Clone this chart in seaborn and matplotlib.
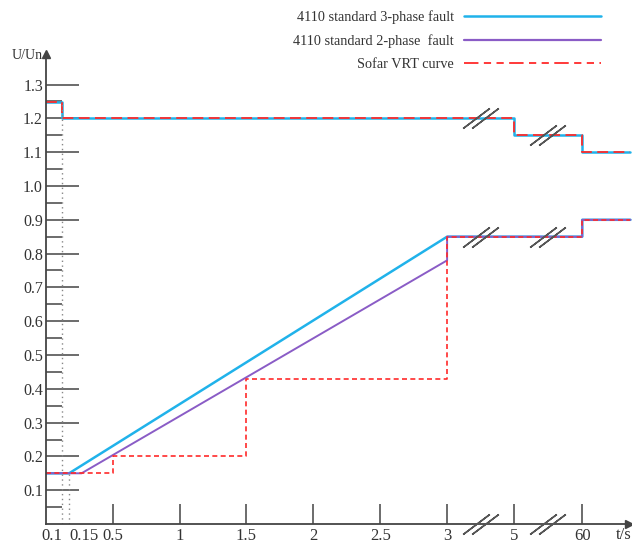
import numpy as np
import matplotlib
matplotlib.use('Agg')
import matplotlib.pyplot as plt
import seaborn as sns
from matplotlib.lines import Line2D
from matplotlib.transforms import offset_copy

# --- data ---
# time axis is broken after 3 s, so times are mapped to axis positions piecewise
AXIS_T = [0, 0.1, 0.15, 0.5, 3, 5, 60, 70]
AXIS_POS = [0, 0.12, 0.175, 0.5, 3, 3.5, 4.01, 4.37]

# upper (high voltage) branch, shared by all curves
HV_T = [0, 0.1, 0.1, 5, 5, 60, 60, 70]
HV_U = [1.25, 1.25, 1.2, 1.2, 1.15, 1.15, 1.1, 1.1]

# lower (low voltage) branches
LV3_T = [0, 0.15, 3, 60, 60, 70]
LV3_U = [0.15, 0.15, 0.85, 0.85, 0.9, 0.9]
LV2_T = [0, 0.25, 3, 3, 60, 60, 70]
LV2_U = [0.15, 0.15, 0.78, 0.85, 0.85, 0.9, 0.9]
SOFAR_T = [0, 0.5, 0.5, 1.5, 1.5, 3, 3, 60, 60, 70]
SOFAR_U = [0.15, 0.15, 0.2, 0.2, 0.43, 0.43, 0.85, 0.85, 0.9, 0.9]

XTICK_T = [0.1, 0.15, 0.5, 1, 1.5, 2, 2.5, 3, 5, 60]
XTICK_LABELS = ['0.1', '0.15', '0.5', '1', '1.5', '2', '2.5', '3', '5', '60']
YTICKS = [0.1, 0.2, 0.3, 0.4, 0.5, 0.6, 0.7, 0.8, 0.9, 1.0, 1.1, 1.2, 1.3]

DOTTED_T = [0.1, 0.15]
DOTTED_TOP = [1.25, 0.15]

# axis breaks: (time, level)
BREAKS_T = [4, 32, 4, 32, 4, 32]
BREAKS_U = [1.2, 1.15, 0.85, 0.85, 0.0, 0.0]

LABELS = ['4110 standard 3-phase fault', '4110 standard 2-phase  fault', 'Sofar VRT curve']
C_3PH = '#20b2ea'
C_2PH = '#8a5cc6'
C_SOFAR = '#ff2a2a'
GREY = '#444444'


def to_pos(t):
    return np.interp(t, AXIS_T, AXIS_POS)


sns.set_theme(style='white')
plt.rcParams['font.family'] = ['Liberation Serif', 'DejaVu Serif']

fig = plt.figure(figsize=(6.32, 5.44), dpi=100)
ax = fig.add_axes([45.7 / 632, 20 / 544, (632 - 45.7) / 632, 524 / 544])

# curves
sns.lineplot(x=to_pos(HV_T), y=HV_U, sort=False, estimator=None, color=C_3PH, lw=1.8, ax=ax)
sns.lineplot(x=to_pos(LV3_T), y=LV3_U, sort=False, estimator=None, color=C_3PH, lw=1.8, ax=ax)
sns.lineplot(x=to_pos(LV2_T), y=LV2_U, sort=False, estimator=None, color=C_2PH, lw=1.4, ax=ax)
sns.lineplot(x=to_pos(HV_T), y=HV_U, sort=False, estimator=None, color=C_SOFAR, lw=1.3,
             linestyle=(0, (6, 3)), ax=ax)
sns.lineplot(x=to_pos(SOFAR_T), y=SOFAR_U, sort=False, estimator=None, color=C_SOFAR, lw=1.2,
             linestyle=(0, (3, 2)), ax=ax)

ax.vlines(to_pos(DOTTED_T), 0, DOTTED_TOP, colors='#888888', linestyles=(0, (1, 2.5)), lw=1)

# break marks "//"
for dx in (-3, 3):
    tr = offset_copy(ax.transData, fig=fig, x=dx, y=0, units='points')
    ax.plot(to_pos(BREAKS_T), BREAKS_U, linestyle='none', marker=(2, 2, -53), ms=24,
            mec='#555555', mew=1.1, transform=tr, clip_on=False, zorder=6)

ax.set_xlim(0, (632 - 45.7) / 133.8)
ax.set_ylim(0, 524 / 338)

# axes with arrows
for side in ['top', 'right']:
    ax.spines[side].set_visible(False)
ax.spines['left'].set_bounds(0, 1.39)
ax.spines['bottom'].set_bounds(0, 4.36)
for side in ['left', 'bottom']:
    ax.spines[side].set_color(GREY)
    ax.spines[side].set_linewidth(1.3)
ax.plot([0], [1.39], marker='^', ms=6, color=GREY, clip_on=False)
ax.plot([4.36], [0], marker='>', ms=6, color=GREY, clip_on=False)

ax.set_xticks(to_pos(XTICK_T))
ax.set_xticklabels(XTICK_LABELS)
ax.set_yticks(YTICKS)
ax.set_yticklabels([f'{v:.1f}' for v in YTICKS])
ax.set_yticks(np.arange(0.05, 1.3, 0.1), minor=True)
ax.tick_params(axis='x', bottom=True, direction='in', length=14.5, width=1.1, color=GREY, pad=3,
               labelsize=12, labelcolor='#333333')
ax.tick_params(axis='y', which='major', left=True, direction='in', length=24, width=1.1,
               color=GREY, pad=2, labelsize=11.5, labelcolor='#333333')
ax.tick_params(axis='y', which='minor', direction='in', length=11.5, width=1.1, color=GREY,
               left=True)
xt = ax.xaxis.get_major_ticks()
xt[0].tick1line.set_visible(False)
xt[1].tick1line.set_visible(False)
xt[0].label1.set_horizontalalignment('right')
xt[1].label1.set_horizontalalignment('left')

ax.text(-0.02, 1.385, 'U/Un', ha='right', va='center', fontsize=10, color='#333333')
ax.text(4.38, -0.033, 't/s', ha='right', va='center', fontsize=12, color='#333333')

handles = [Line2D([], [], color=C_3PH, lw=1.8),
           Line2D([], [], color=C_2PH, lw=1.6),
           Line2D([], [], color=C_SOFAR, lw=1.3, linestyle=(0, (8, 3, 4, 3, 4, 3)))]
leg = fig.legend(handles, LABELS, loc='upper right', bbox_to_anchor=(601 / 632, 1 - 10 / 544),
                 frameon=False, markerfirst=False, handlelength=9.6, handletextpad=0.7,
                 labelspacing=0.7, borderpad=0, borderaxespad=0, fontsize=10.3)
for t in leg.get_texts():
    t.set_color('#333333')

fig.savefig('out.png', dpi=100)
